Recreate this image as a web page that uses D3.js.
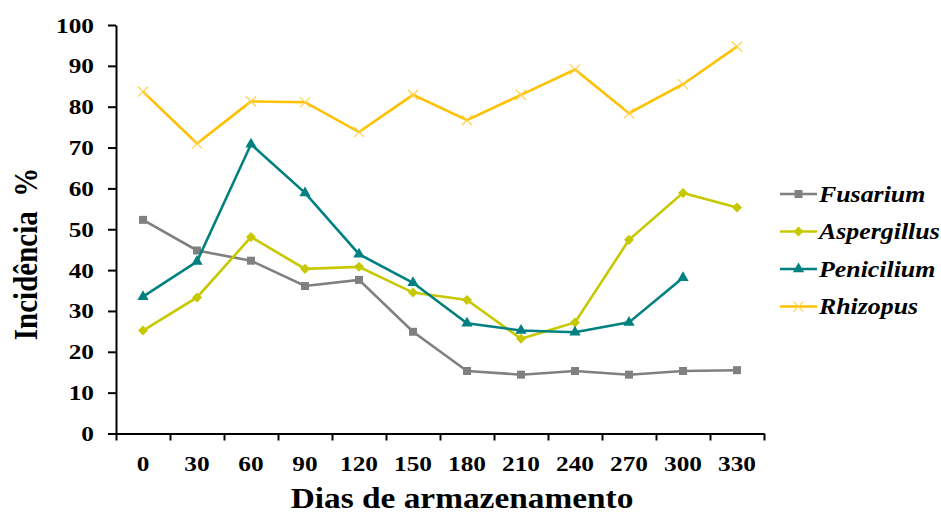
<!DOCTYPE html>
<html>
<head>
<meta charset="utf-8">
<script src="https://cdn.jsdelivr.net/npm/d3@7"></script>
<style>
  body { margin: 0; background: #fff; }
</style>
</head>
<body>
<div id="chart"></div>
<script>
const days = ["0", "30", "60", "90", "120", "150", "180", "210", "240", "270", "300", "330"];
const fusarium = [52.3, 44.8, 42.3, 36.1, 37.6, 24.9, 15.3, 14.4, 15.3, 14.4, 15.3, 15.5];
const aspergillus = [25.2, 33.3, 48.1, 40.3, 40.8, 34.5, 32.7, 23.2, 27.2, 47.4, 58.9, 55.3];
const penicilium = [33.5, 42.1, 70.8, 58.9, 43.9, 36.9, 27.0, 25.2, 24.8, 27.2, 38.1, null];
const rhizopus = [83.7, 71.0, 81.3, 81.1, 73.8, 82.9, 76.7, 82.9, 89.1, 78.4, 85.5, 94.7];
const yTicks = [0, 10, 20, 30, 40, 50, 60, 70, 80, 90, 100];

const FONT = "'Liberation Serif', 'Times New Roman', serif";
const SX = 1.15; // the original text is a little wider than plain Times

const series = [
  {name: "Fusarium", values: fusarium, color: "#808080", symbol: d3.symbolSquare, size: 64},
  {name: "Aspergillus", values: aspergillus, color: "#c8c800", symbol: d3.symbolDiamond2 || d3.symbolDiamond, size: 64},
  {name: "Penicilium", values: penicilium, color: "#008080", symbol: d3.symbolTriangle, size: 55},
  {name: "Rhizopus", values: rhizopus, color: "#ffc000", symbol: null, size: 0}
];

const W = 941, H = 515;
const margin = {top: 25, right: 177, bottom: 81.5, left: 116};
const width = W - margin.left - margin.right,
  height = H - margin.top - margin.bottom;

const svg = d3.select("#chart")
  .append("svg")
    .attr("width", W)
    .attr("height", H)
    .style("font-family", FONT)
  .append("g")
    .attr("transform", `translate(${margin.left},${margin.top})`);

function stretch(sel) {
  sel.each(function() {
    const t = d3.select(this);
    const x0 = +t.attr("x") || 0;
    t.attr("x", x0 / SX).attr("transform", `scale(${SX},1)`);
  });
}

const x = d3.scaleBand().domain(days).range([0, width]);
const xEdges = d3.scaleLinear().domain([0, days.length]).range([0, width]);
const y = d3.scaleLinear().domain([0, 100]).range([height, 0]);

// y axis
const yAxis = svg.append("g")
  .call(d3.axisLeft(y).tickValues(yTicks).tickSize(8).tickPadding(14).tickSizeOuter(0));
yAxis.attr("font-family", null).attr("font-size", null);
yAxis.selectAll("text")
  .style("font-family", FONT).style("font-weight", "bold").style("font-size", "22px")
  .attr("fill", "#000")
  .call(stretch);

// x axis: labels at band centres, ticks at band edges
const xAxis = svg.append("g")
  .attr("transform", `translate(0,${height})`)
  .call(d3.axisBottom(x).tickSize(0).tickPadding(22));
xAxis.attr("font-family", null).attr("font-size", null);
xAxis.selectAll("text")
  .style("font-family", FONT).style("font-weight", "bold").style("font-size", "22px")
  .attr("fill", "#000")
  .call(stretch);
xAxis.select(".domain").remove();

svg.append("g")
  .attr("transform", `translate(0,${height})`)
  .call(d3.axisBottom(xEdges).tickValues(d3.range(days.length + 1)).tickSize(7).tickSizeOuter(0).tickFormat(""));

svg.selectAll(".domain, .tick line").attr("stroke", "#000").attr("stroke-width", 2);

const line = d3.line()
  .defined(d => d != null)
  .x((d, i) => x(days[i]) + x.bandwidth() / 2)
  .y(d => y(d));

const crossPath = d3.symbol().type(d3.symbolTimes || d3.symbolX).size(70);

series.forEach(s => {
  svg.append("path")
    .datum(s.values)
    .attr("d", line)
    .attr("fill", "none")
    .attr("stroke", s.color)
    .attr("stroke-width", 2.6);

  const pts = s.values.map((v, i) => ({v, i})).filter(p => p.v != null);
  const g = svg.append("g");
  if (s.symbol) {
    g.selectAll("path")
      .data(pts)
      .join("path")
        .attr("transform", p => `translate(${x(days[p.i]) + x.bandwidth() / 2},${y(p.v)})`)
        .attr("d", d3.symbol().type(s.symbol).size(s.size))
        .attr("fill", s.color);
  } else {
    g.selectAll("path")
      .data(pts)
      .join("path")
        .attr("transform", p => `translate(${x(days[p.i]) + x.bandwidth() / 2},${y(p.v)})`)
        .attr("d", crossPath)
        .attr("fill", "none")
        .attr("stroke", "#ffd24d")
        .attr("stroke-width", 1.2);
  }
});

// legend
const legend = svg.append("g").attr("transform", `translate(${width + 16},0)`);
series.forEach((s, i) => {
  const ly = 169 + i * 37.5;
  const row = legend.append("g").attr("transform", `translate(0,${ly})`);
  row.append("line")
    .attr("x1", 0).attr("x2", 37)
    .attr("stroke", s.color).attr("stroke-width", 2.6);
  if (s.symbol) {
    row.append("path")
      .attr("transform", "translate(18.5,0)")
      .attr("d", d3.symbol().type(s.symbol).size(s.size))
      .attr("fill", s.color);
  } else {
    row.append("path")
      .attr("transform", "translate(18.5,0)")
      .attr("d", crossPath)
      .attr("fill", "none")
      .attr("stroke", "#ffd24d")
      .attr("stroke-width", 1.2);
  }
  row.append("text")
    .attr("x", 39)
    .attr("dy", "0.35em")
    .style("font-size", "22.5px")
    .style("font-weight", "bold")
    .style("font-style", "italic")
    .text(s.name)
    .call(stretch);
});

// axis titles
svg.append("text")
  .attr("x", 346)
  .attr("y", height + 75)
  .attr("text-anchor", "middle")
  .style("font-size", "29px")
  .style("font-weight", "bold")
  .text("Dias de armazenamento")
  .call(stretch);

svg.append("text")
  .attr("transform", `translate(-91,${229}) scale(${SX},1) rotate(-90)`)
  .attr("text-anchor", "middle")
  .attr("dy", "0.35em")
  .style("font-size", "29px")
  .style("font-weight", "bold")
  .attr("xml:space", "preserve")
  .style("white-space", "pre")
  .text("Incidência  %");
</script>
</body>
</html>
